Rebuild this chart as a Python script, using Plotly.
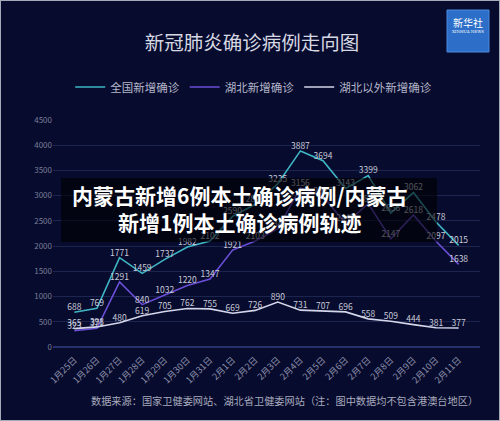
import plotly.graph_objects as go

dates = ["1月25日", "1月26日", "1月27日", "1月28日", "1月29日", "1月30日", "1月31日",
         "2月1日", "2月2日", "2月3日", "2月4日", "2月5日", "2月6日", "2月7日",
         "2月8日", "2月9日", "2月10日", "2月11日"]
national = [688, 769, 1771, 1459, 1737, 1982, 2102, 2590, 2829, 3235, 3887, 3694,
            3143, 3399, 2656, 3062, 2478, 2015]
hubei = [323, 371, 1291, 840, 1032, 1220, 1347, 1921, 2103, 2345, 3156, 2987,
         2447, 2841, 2147, 2618, 2097, 1638]
outside = [365, 398, 480, 619, 705, 762, 755, 669, 726, 890, 731, 707, 696, 558,
           509, 444, 381, 377]
y_ticks = [0, 500, 1000, 1500, 2000, 2500, 3000, 3500, 4000, 4500]

BG = "#070b2e"
FONT = "Noto Sans CJK SC"
LBL = "#c8cad8"

fig = go.Figure()
series = [
    ("全国新增确诊", national, "#3fb6c4"),
    ("湖北新增确诊", hubei, "#6a4ed6"),
    ("湖北以外新增确诊", outside, "#d4d6ea"),
]
for name, vals, col in series:
    fig.add_trace(go.Scatter(
        x=dates, y=vals, name=name, mode="lines+text",
        line=dict(color=col, width=1.6),
        text=[str(v) for v in vals], textposition="top center",
        textfont=dict(family=FONT, size=8.5, color=LBL),
        cliponaxis=False,
    ))

fig.update_layout(
    width=500, height=421,
    paper_bgcolor=BG, plot_bgcolor=BG,
    margin=dict(l=53, r=20, t=120, b=74, autoexpand=False),
    font=dict(family=FONT, color="#9094aa"),
    title=dict(text="新冠肺炎确诊病例走向图", x=252 / 500, xanchor="center",
               xref="container", y=1 - 43 / 421, yanchor="middle", automargin=False,
               font=dict(family=FONT, size=19.5, color="#d6d8e2")),
    legend=dict(orientation="h", x=0.47, xanchor="center", y=1 - 87 / 421,
                yref="container", yanchor="middle",
                font=dict(family=FONT, size=11.5, color="#b4b6c8"),
                itemwidth=30, bgcolor="rgba(0,0,0,0)"),
    showlegend=True,
    xaxis=dict(type="category", showgrid=False, zeroline=False, automargin=False,
               tickangle=-45, tickfont=dict(family=FONT, size=9, color="#8c90aa"),
               ticklabelstandoff=5, showline=False, ticks=""),
    yaxis=dict(range=[0, 4500], tickvals=y_ticks, showgrid=True, automargin=False,
               gridcolor="#1c2550", gridwidth=1, zeroline=True,
               zerolinecolor="#26306a", showline=False,
               tickfont=dict(family=FONT, size=8, color="#7a7e98")),
)

# source note
fig.add_annotation(text="数据来源：国家卫健委网站、湖北省卫健委网站（注：图中数据均不包含港澳台地区）",
                   xref="paper", yref="paper", x=(284 - 53) / 427, y=-(400 - 347) / 227,
                   xanchor="center", yanchor="middle", showarrow=False,
                   font=dict(family=FONT, size=10.2, color="#a8aabc"))

# overlay caption box
fig.add_shape(type="rect", xref="paper", yref="paper",
              x0=(61 - 53) / 427, x1=(437 - 53) / 427,
              y0=(347 - 242) / 227, y1=(347 - 178) / 227,
              fillcolor="rgba(0,0,0,0.6)", line=dict(width=0), layer="above")
fig.add_annotation(text="<b>内蒙古新增6例本土确诊病例/内蒙古</b><br><b>新增1例本土确诊病例轨迹</b>",
                   xref="paper", yref="paper", x=(240 - 53) / 427,
                   y=(347 - 208) / 227, xanchor="center", yanchor="middle",
                   showarrow=False, align="center",
                   font=dict(family=FONT, size=21, color="#ffffff"))

# Xinhua logo
fig.add_shape(type="rect", xref="paper", yref="paper",
              x0=(447 - 53) / 427, x1=(489 - 53) / 427,
              y0=(347 - 52) / 227, y1=(347 - 10) / 227,
              fillcolor="#2d6fc8", line=dict(color="#4a8ae0", width=1), layer="above")
fig.add_annotation(text="新华社", xref="paper", yref="paper",
                   x=(468 - 53) / 427, y=(347 - 22) / 227, showarrow=False,
                   xanchor="center", yanchor="middle",
                   font=dict(family=FONT, size=10, color="#ffffff"))
fig.add_annotation(text="XINHUA NEWS", xref="paper", yref="paper",
                   x=(468 - 53) / 427, y=(347 - 31) / 227, showarrow=False,
                   xanchor="center", yanchor="middle",
                   font=dict(family="DejaVu Serif", size=4, color="#ffffff"))

# light border around the picture
fig.add_shape(type="rect", xref="paper", yref="paper",
              x0=-53 / 427, x1=(500 - 53) / 427, y0=-74 / 227, y1=(421 - 74) / 227,
              line=dict(color="#a6aab8", width=2), fillcolor="rgba(0,0,0,0)")

fig.write_html("out.html", config={"displayModeBar": False},
               post_script="document.body.style.margin='0';document.body.style.overflow='hidden';")
